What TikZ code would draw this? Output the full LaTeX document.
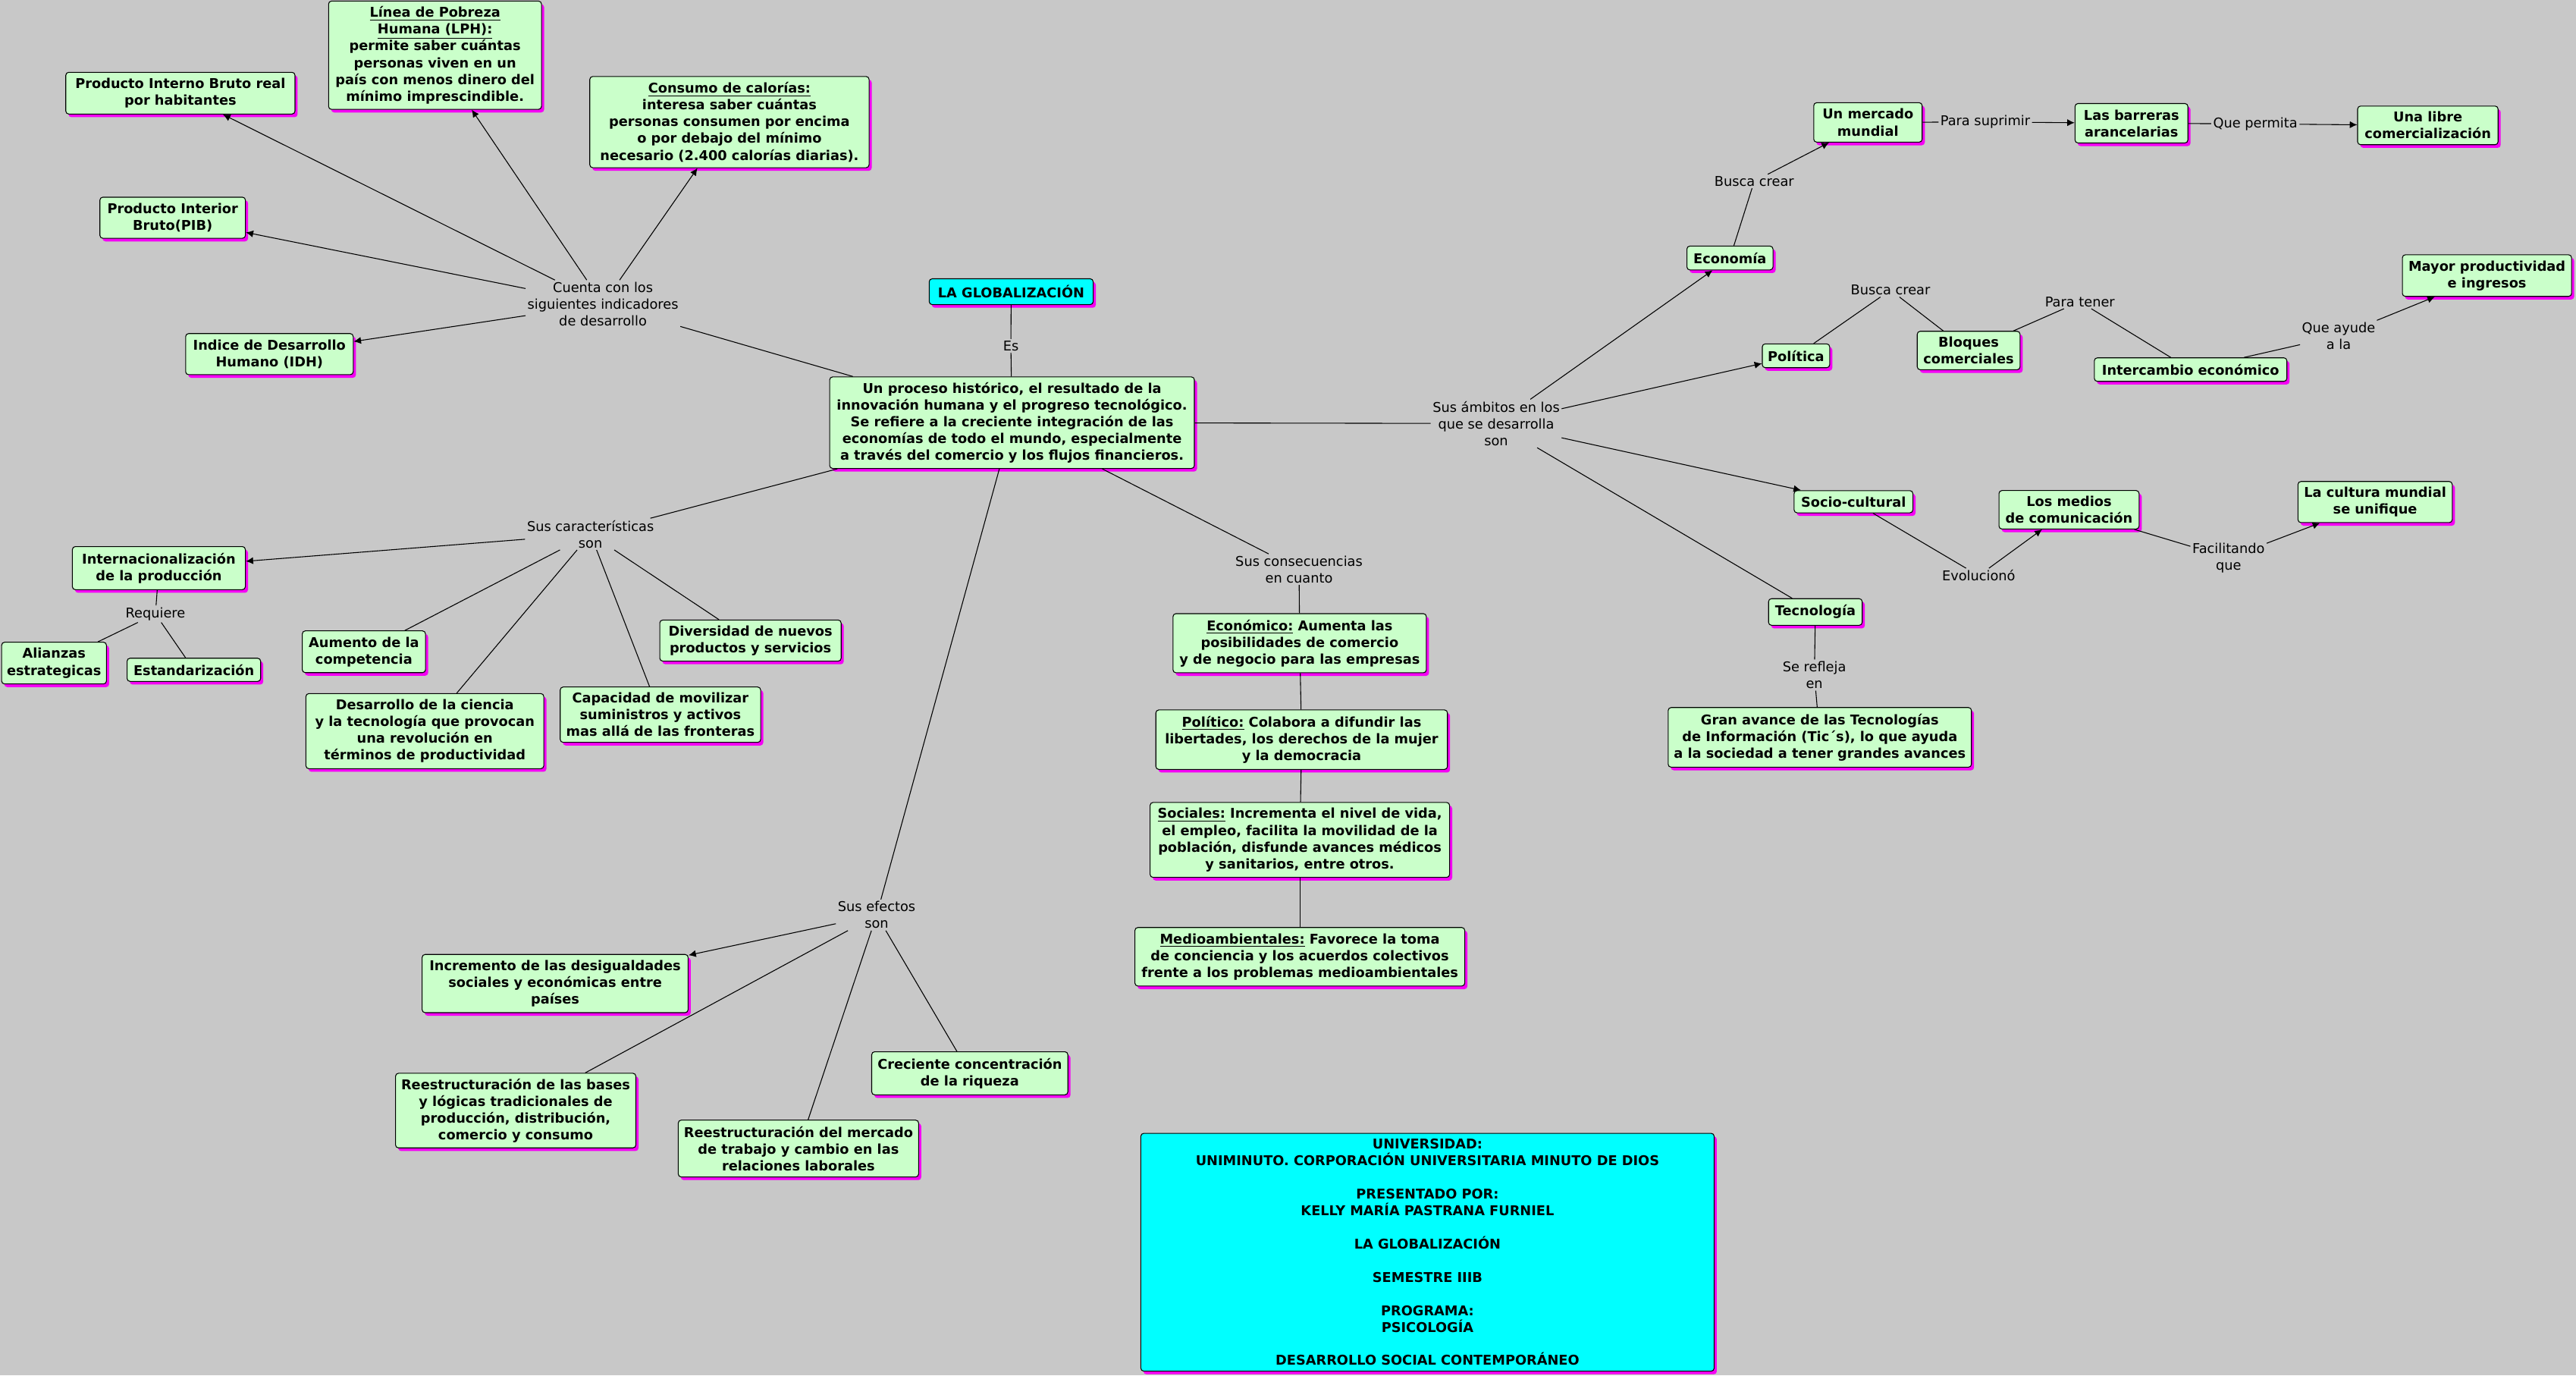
\documentclass[tikz,border=0pt]{standalone}
\usepackage{fontspec}
\setmainfont{DejaVu Sans}
\usetikzlibrary{shadows,arrows.meta}
\definecolor{bg}{RGB}{200,200,200}
\definecolor{boxgreen}{RGB}{202,255,202}
\definecolor{shad}{RGB}{245,0,245}
\definecolor{cyanbox}{RGB}{0,255,255}
\tikzset{
 cbox/.style={draw=black, line width=0.5pt, rounded corners=1.8pt, fill=boxgreen,
   font=\fontsize{8.2}{10.2}\selectfont\bfseries, align=center, inner sep=0pt,
   drop shadow={shadow xshift=1.6pt, shadow yshift=-1.9pt, fill=shad, opacity=1}},
 cyanb/.style={cbox, fill=cyanbox},
 sz/.style 2 args={minimum width=#1pt, minimum height=#2pt},
 clabel/.style={font=\fontsize{8.2}{10.2}\selectfont, align=center, inner sep=1pt},
 conn/.style={draw=black, line width=0.5pt},
 arr/.style={conn, -{Latex[length=4.5pt,width=4.3pt]}},
}
\begin{document}
\begin{tikzpicture}[x=1pt,y=-1pt]
\useasboundingbox (0,0) rectangle (1568,837);
\fill[bg] (0,0) rectangle (1568,837);

% central
\node[cyanb, sz={99.8}{15.7}] (glob) at (615.5,177.5) {LA GLOBALIZACIÓN};
\node[clabel] (les) at (615.3,210.5) {Es};
\node[cbox, sz={222}{55.7}] (proc) at (616,257.2) {Un proceso histórico, el resultado de la\\innovación humana y el progreso tecnológico.\\ Se refiere a la creciente integración de las\\economías de todo el mundo, especialmente\\a través del comercio y los flujos financieros.};

% indicators
\node[clabel] (lcuenta) at (367,185) {Cuenta con los\\siguientes indicadores\\de desarrollo};
\node[cbox, sz={139.5}{25.4}] (pibr) at (109.8,56.7) {Producto Interno Bruto real\\por habitantes};
\node[cbox, sz={129.6}{65.9}] (lph) at (264.8,33.6) {\underline{Línea de Pobreza}\\\underline{Humana (LPH):}\\permite saber cuántas\\personas viven en un\\país con menos dinero del\\mínimo imprescindible.};
\node[cbox, sz={170}{55.5}] (cal) at (444,74.3) {\underline{Consumo de calorías:}\\interesa saber cuántas\\personas consumen por encima\\o por debajo del mínimo\\necesario (2.400 calorías diarias).};
\node[cbox, sz={88.6}{25}] (pib) at (105.1,132.5) {Producto Interior\\Bruto(PIB)};
\node[cbox, sz={102}{25}] (idh) at (164,215.5) {Indice de Desarrollo\\Humano (IDH)};

% ambitos
\node[clabel] (lamb) at (910.7,257.7) {Sus ámbitos en los\\que se desarrolla\\son};
\node[cbox, sz={52.4}{14.5}] (econ) at (1053,157) {Economía};
\node[clabel] (lbusca1) at (1067.8,110.3) {Busca crear};
\node[cbox, sz={66}{24}] (merc) at (1137,74.5) {Un mercado\\mundial};
\node[clabel] (lpara) at (1208.4,74.2) {Para suprimir};
\node[cbox, sz={68.7}{24}] (barr) at (1297.4,75) {Las barreras\\arancelarias};
\node[clabel] (lquep) at (1372.8,75.4) {Que permita};
\node[cbox, sz={85.5}{23.5}] (libre) at (1477.8,76.3) {Una libre\\comercialización};
\node[cbox, sz={41}{14.5}] (pol) at (1093.2,216.5) {Política};
\node[clabel] (lbusca2) at (1150.7,176.5) {Busca crear};
\node[cbox, sz={62.6}{23.4}] (bloq) at (1198.3,213.3) {Bloques\\comerciales};
\node[clabel] (lparat) at (1266,183.6) {Para tener};
\node[cbox, sz={117.2}{14.3}] (inter) at (1333.4,224.9) {Intercambio económico};
\node[clabel] (lqueay) at (1423.5,204.4) {Que ayude\\a la};
\node[cbox, sz={103}{25.3}] (mayor) at (1513.8,167.7) {Mayor productividad\\e ingresos};
\node[cbox, sz={72.3}{13.5}] (soc) at (1128.2,305.3) {Socio-cultural};
\node[clabel] (levol) at (1204.4,350.3) {Evolucionó};
\node[cbox, sz={85.3}{23.4}] (medios) at (1259.4,310.2) {Los medios\\de comunicación};
\node[clabel] (lfacil) at (1356.5,339.4) {Facilitando\\que};
\node[cbox, sz={93.9}{25}] (cult) at (1445.7,305.5) {La cultura mundial\\se unifique};
\node[cbox, sz={57}{16.2}] (tec) at (1105,372.4) {Tecnología};
\node[clabel] (lrefl) at (1104.4,410.8) {Se refleja\\en};
\node[cbox, sz={184.6}{36.3}] (gran) at (1107.7,448.7) {Gran avance de las Tecnologías\\de Información (Tic´s), lo que ayuda\\a la sociedad a tener grandes avances};

% caracteristicas
\node[clabel] (lcar) at (359.4,325) {Sus características\\son};
\node[cbox, sz={105.3}{26.2}] (intl) at (96.7,345.7) {Internacionalización\\de la producción};
\node[clabel] (lreq) at (94.6,373.6) {Requiere};
\node[cbox, sz={63.8}{25.4}] (ali) at (32.9,403.5) {Alianzas\\estrategicas};
\node[cbox, sz={81.3}{14.1}] (est) at (118,407.6) {Estandarización};
\node[cbox, sz={75}{25.4}] (aum) at (221.5,396.6) {Aumento de la\\competencia};
\node[cbox, sz={144.8}{45.7}] (desc) at (258.6,444.9) {Desarrollo de la ciencia\\y la tecnología que provocan\\una revolución en\\términos de productividad};
\node[cbox, sz={122}{33.7}] (cap) at (402,434.9) {Capacidad de movilizar\\suministros y activos\\mas allá de las fronteras};
\node[cbox, sz={110.4}{25}] (div) at (456.8,389.8) {Diversidad de nuevos\\productos y servicios};

% consecuencias
\node[clabel] (lcons) at (790.7,346.5) {Sus consecuencias\\en cuanto};
\node[cbox, sz={154.2}{36}] (ecn) at (791.1,391.4) {\underline{Económico:} Aumenta las\\posibilidades de comercio\\y de negocio para las empresas};
\node[cbox, sz={177.5}{36.2}] (polt) at (792.3,450.1) {\underline{Político:} Colabora a difundir las\\ libertades, los derechos de la mujer\\y la democracia};
\node[cbox, sz={182.3}{45.6}] (socs) at (791.2,511.1) {\underline{Sociales:} Incrementa el nivel de vida,\\ el empleo, facilita la movilidad de la\\población, disfunde avances médicos\\y sanitarios, entre otros.};
\node[cbox, sz={200.8}{35.6}] (med) at (791.2,582.2) {\underline{Medioambientales:} Favorece la toma\\de conciencia y los acuerdos colectivos\\frente a los problemas medioambientales};

% efectos
\node[clabel] (lefe) at (533.6,556.8) {Sus efectos\\son};
\node[cbox, sz={161.9}{35.4}] (inc) at (337.9,598.5) {Incremento de las desigualdades\\sociales y económicas entre\\países};
\node[cbox, sz={146.3}{45.4}] (rbas) at (313.9,675.8) {Reestructuración de las bases\\y lógicas tradicionales de\\producción, distribución,\\comercio y consumo};
\node[cbox, sz={146.3}{34.6}] (rmer) at (486,698.9) {Reestructuración del mercado\\de trabajo y cambio en las\\relaciones laborales};
\node[cbox, sz={119.4}{26.2}] (crec) at (590.3,653.1) {Creciente concentración\\de la riqueza};

% info
\node[cyanb, sz={349}{144.7}] (info) at (868.9,762) {UNIVERSIDAD:\\UNIMINUTO. CORPORACIÓN UNIVERSITARIA MINUTO DE DIOS\\[10pt]PRESENTADO POR:\\KELLY MARÍA PASTRANA FURNIEL\\[10pt]LA GLOBALIZACIÓN\\[10pt]SEMESTRE IIIB\\[10pt]PROGRAMA:\\PSICOLOGÍA\\[10pt]DESARROLLO SOCIAL CONTEMPORÁNEO};

% connectors
\draw[conn] (glob) -- (les);
\draw[conn] (les) -- (proc);
\draw[conn] (proc) -- (lcuenta);
\draw[arr] (lcuenta) -- (pibr);
\draw[arr] (lcuenta) -- (lph);
\draw[arr] (lcuenta) -- (cal);
\draw[arr] (lcuenta) -- (pib);
\draw[arr] (lcuenta) -- (idh);

\draw[conn] (proc) -- (lamb);
\draw[arr] (lamb) -- (econ);
\draw[arr] (lamb) -- (pol);
\draw[arr] (lamb) -- (soc);
\draw[conn] (lamb) -- (tec);
\draw[conn] (econ) -- (lbusca1);
\draw[arr] (lbusca1) -- (merc);
\draw[conn] (merc) -- (lpara);
\draw[arr] (lpara) -- (barr);
\draw[conn] (barr) -- (lquep);
\draw[arr] (lquep) -- (libre);
\draw[conn] (pol) -- (lbusca2);
\draw[conn] (lbusca2) -- (bloq);
\draw[conn] (bloq) -- (lparat);
\draw[conn] (lparat) -- (inter);
\draw[conn] (inter) -- (lqueay);
\draw[arr] (lqueay) -- (mayor);
\draw[conn] (soc) -- (levol);
\draw[arr] (levol) -- (medios);
\draw[conn] (medios) -- (lfacil);
\draw[arr] (lfacil) -- (cult);
\draw[conn] (tec) -- (lrefl);
\draw[conn] (lrefl) -- (gran);

\draw[conn] (proc) -- (lcar);
\draw[arr] (lcar) -- (intl);
\draw[conn] (lcar) -- (aum);
\draw[conn] (lcar) -- (desc);
\draw[conn] (lcar) -- (cap);
\draw[conn] (lcar) -- (div);
\draw[conn] (intl) -- (lreq);
\draw[conn] (lreq) -- (ali);
\draw[conn] (lreq) -- (est);

\draw[conn] (proc) -- (lcons);
\draw[conn] (lcons) -- (ecn);
\draw[conn] (ecn) -- (polt);
\draw[conn] (polt) -- (socs);
\draw[conn] (socs) -- (med);

\draw[conn] (proc) -- (lefe);
\draw[arr] (lefe) -- (inc);
\draw[conn] (lefe) -- (rbas);
\draw[conn] (lefe) -- (rmer);
\draw[conn] (lefe) -- (crec);
\end{tikzpicture}
\end{document}
